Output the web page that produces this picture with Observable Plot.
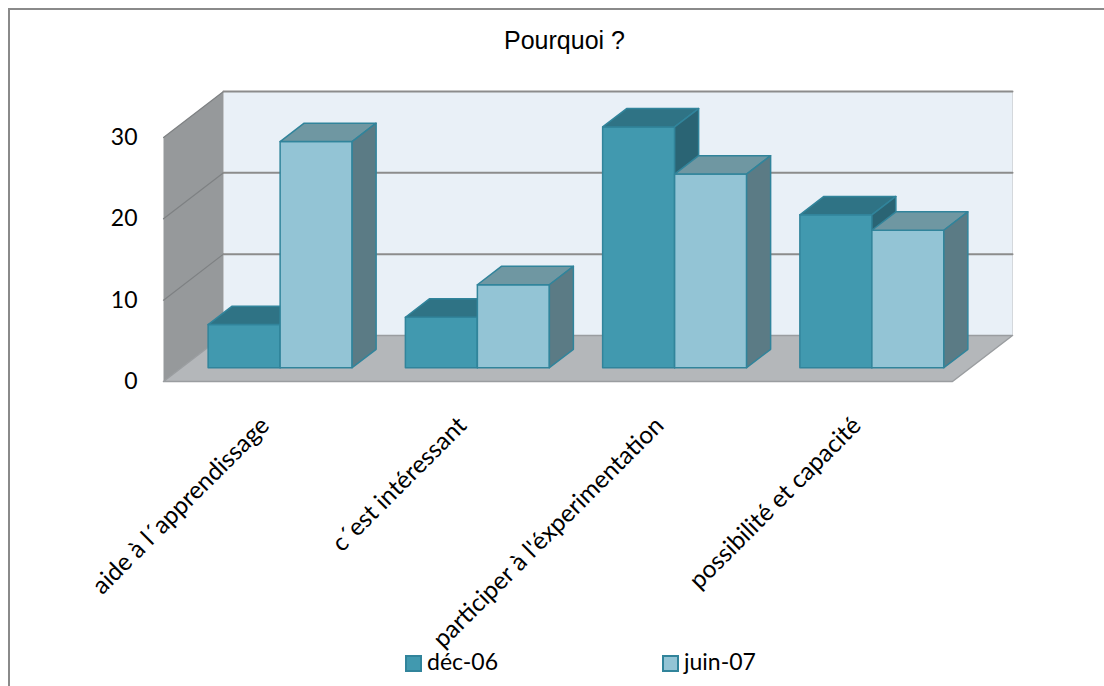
<!DOCTYPE html>
<html><head><meta charset="utf-8">
<script src="https://cdn.jsdelivr.net/npm/d3@7"></script>
<script src="https://cdn.jsdelivr.net/npm/@observablehq/plot@0.6"></script>
<style>
body{margin:0;background:#fff;}
#wrap{position:relative;width:1104px;height:686px;overflow:hidden;font-family:Lato,"Open Sans",sans-serif;}
#frame{position:absolute;left:8px;top:8px;width:1200px;height:800px;border-top:2px solid #8a8a8a;border-left:2px solid #8a8a8a;}
#title{position:absolute;left:0;width:1129px;top:28px;text-align:center;font-family:"Liberation Sans",Arial,sans-serif;font-size:25px;line-height:25px;color:#000;}
#chart{position:absolute;left:0;top:0;}
.lg{position:absolute;font-size:23px;line-height:23px;color:#000;}
.sw{position:absolute;width:13px;height:13px;border:2px solid #31849B;}
</style></head>
<body>
<div id="wrap">
  <div id="frame"></div>
  <div id="chart"></div>
  <div id="title">Pourquoi ?</div>
  <div id="legend"></div>
</div>
<script>
// ---- data ----
const categories = ["aide à l´apprendissage", "c´est intéressant", "participer à l'éxperimentation", "possibilité et capacité"];
const seriesNames = ["déc-06", "juin-07"];
const dec06 = [5.3, 6.2, 29.6, 18.8];
const juin07 = [27.8, 10.2, 23.8, 16.9];
const yTicks = [0, 10, 20, 30];

// ---- styles ----
const frontColors = ["#4199AF", "#93C4D5"];
const topColors = ["#2F7385", "#6F97A2"];
const sideColors = ["#2A6474", "#5B7B85"];
const edgeColor = "#31849B";

// depth of the 3D box, expressed in scale units
const DX = 60 / 197.25;   // x units
const DY = 46 / 8.13;     // y (value) units
const BAR_W = 0.365, GAP0 = 0.135, D0 = 0.3, D1 = 0.7;
const YMAX = 30;

let pid = 0;
function addPoly(arr, pts, fill) {
  const id = pid++;
  for (const [x, v, d] of pts) arr.push({id, x: x + d * DX, y: v + d * DY, fill});
}

// walls and floor
const walls = [];
addPoly(walls, [[0,0,1],[4,0,1],[4,YMAX,1],[0,YMAX,1]], "#E9F0F7");
addPoly(walls, [[0,0,0],[0,0,1],[0,YMAX,1],[0,YMAX,0]], "#96999B");
const floor = [];
addPoly(floor, [[0,0,0],[4,0,0],[4,0,1],[0,0,1]], "#B4B7BA");

// gridlines
const backGrid = [], sideGrid = [];
for (const t of yTicks.filter(t => t > 0)) {
  addPoly(backGrid, [[0,t,1],[4,t,1]], null);
  addPoly(sideGrid, [[0,t,0],[0,t,1]], null);
}
const rightEdge = [];
addPoly(rightEdge, [[4,0,1],[4,YMAX,1]], null);

// bars
const bars = [];
const values = [dec06, juin07];
categories.forEach((c, i) => {
  values.forEach((vals, s) => {
    const v = vals[i];
    const x0 = i + GAP0 + s * BAR_W, x1 = x0 + BAR_W;
    addPoly(bars, [[x0,0,D0],[x1,0,D0],[x1,v,D0],[x0,v,D0]], frontColors[s]);
    addPoly(bars, [[x0,v,D0],[x1,v,D0],[x1,v,D1],[x0,v,D1]], topColors[s]);
    addPoly(bars, [[x1,0,D0],[x1,0,D1],[x1,v,D1],[x1,v,D0]], sideColors[s]);
  });
});

const chart = Plot.plot({
  width: 1104,
  height: 686,
  marginLeft: 163,
  marginRight: 152,
  marginTop: 137,
  marginBottom: 305,
  x: {domain: [0, 4], axis: null},
  y: {domain: [0, YMAX], axis: null},
  color: {type: "identity"},
  style: {fontFamily: "Lato, 'Open Sans', sans-serif", fontSize: "23px", color: "#000", background: "transparent", overflow: "visible"},
  marks: [
    Plot.line(walls, {x: "x", y: "y", z: "id", fill: "fill", stroke: "none", curve: "linear-closed"}),
    Plot.line(rightEdge, {x: "x", y: "y", z: "id", stroke: "#d4d8dc", strokeWidth: 1}),
    Plot.line(sideGrid, {x: "x", y: "y", z: "id", stroke: "#7e8183", strokeWidth: 1.2}),
    Plot.line(backGrid, {x: "x", y: "y", z: "id", stroke: "#8c8c8c", strokeWidth: 2}),
    Plot.line(floor, {x: "x", y: "y", z: "id", fill: "fill", stroke: "#9a9da0", strokeWidth: 1.5, curve: "linear-closed"}),
    Plot.line(bars, {x: "x", y: "y", z: "id", fill: "fill", stroke: edgeColor, strokeWidth: 1.5, strokeLinejoin: "round", curve: "linear-closed"}),
    Plot.axisY(yTicks, {anchor: "left", label: null, tickSize: 0, tickPadding: 26, fontSize: 23, fill: "#000"}),
    Plot.text(categories, {x: (d, i) => i + 0.5, y: 0, text: d => d, rotate: -45, textAnchor: "end", dx: 3, dy: 40, fontSize: 24.5, fill: "#000"})
  ]
});
document.getElementById("chart").appendChild(chart);

// legend
const legend = document.getElementById("legend");
const legendPos = [405, 662];
seriesNames.forEach((name, s) => {
  const sw = document.createElement("div");
  sw.className = "sw";
  sw.style.left = legendPos[s] + "px";
  sw.style.top = "655px";
  sw.style.background = frontColors[s];
  legend.appendChild(sw);
  const t = document.createElement("div");
  t.className = "lg";
  t.textContent = name;
  t.style.left = (legendPos[s] + 22) + "px";
  t.style.top = "650px";
  legend.appendChild(t);
});
</script>
</body></html>
